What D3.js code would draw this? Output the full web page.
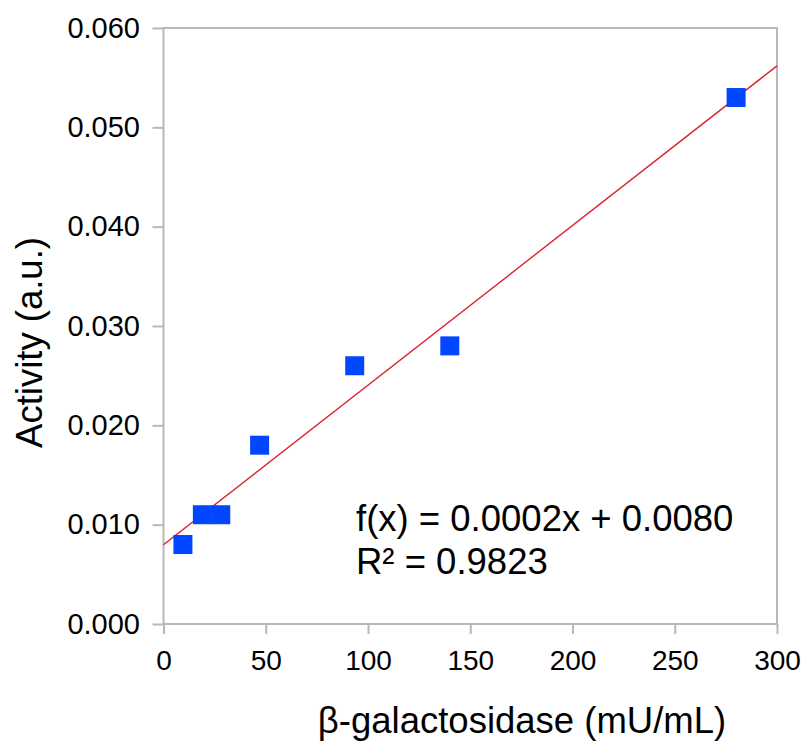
<!DOCTYPE html>
<html>
<head>
<meta charset="utf-8">
<script src="https://cdn.jsdelivr.net/npm/d3@7"></script>
<style>
  html, body { margin: 0; padding: 0; background: #fff; }
  svg { display: block; }
  text { font-family: "Liberation Sans", Arial, sans-serif; fill: #000; }
</style>
</head>
<body>
<svg id="chart" width="806" height="742"></svg>
<script>
// Enzyme concentration (mU/mL) and measured activity (a.u.)
const concentration = [9.5, 19, 28, 47, 93.5, 140, 280];
const activity      = [0.008, 0.011, 0.011, 0.018, 0.026, 0.028, 0.053];

const xTicks = [0, 50, 100, 150, 200, 250, 300];
const yTicks = [0, 0.01, 0.02, 0.03, 0.04, 0.05, 0.06];

const xTitle = "β-galactosidase (mU/mL)";
const yTitle = "Activity (a.u.)";
const fitLabels = ["f(x) = 0.0002x + 0.0080", "R² = 0.9823"];

const svg = d3.select("#chart");
const plot = { left: 163.5, right: 777, top: 28, bottom: 624 };

const x = d3.scaleLinear().domain([0, 300]).range([plot.left, plot.right]);
const y = d3.scaleLinear().domain([0, 0.06]).range([plot.bottom, plot.top]);

const frameColor = "#b8b8b8";

// plot frame
svg.append("rect")
  .attr("x", plot.left).attr("y", plot.top)
  .attr("width", plot.right - plot.left).attr("height", plot.bottom - plot.top)
  .attr("fill", "none").attr("stroke", frameColor).attr("stroke-width", 2);

// axes
const xAxis = svg.append("g")
  .attr("transform", `translate(0,${plot.bottom})`)
  .call(d3.axisBottom(x).tickValues(xTicks).tickSize(10).tickPadding(16)
        .tickFormat(d3.format("d")));
const yAxis = svg.append("g")
  .attr("transform", `translate(${plot.left},0)`)
  .call(d3.axisLeft(y).tickValues(yTicks).tickSize(11).tickPadding(12.5)
        .tickFormat(d3.format(".3f")));

[[xAxis, "28px"], [yAxis, "29px"]].forEach(([g, fs]) => {
  g.select(".domain").remove();
  g.selectAll(".tick line").attr("stroke", frameColor).attr("stroke-width", 2);
  g.selectAll(".tick text")
    .attr("fill", "#000")
    .style("font-family", '"Liberation Sans", Arial, sans-serif')
    .style("font-size", fs);
});

// least-squares trend line through the measurements
const n = concentration.length;
const mx = d3.mean(concentration), my = d3.mean(activity);
let sxy = 0, sxx = 0;
for (let i = 0; i < n; i++) {
  sxy += (concentration[i] - mx) * (activity[i] - my);
  sxx += (concentration[i] - mx) ** 2;
}
const slope = sxy / sxx, intercept = my - slope * mx;

svg.append("line")
  .attr("x1", x(0)).attr("y1", y(intercept))
  .attr("x2", x(300)).attr("y2", y(intercept + slope * 300))
  .attr("stroke", "#d8232f").attr("stroke-width", 1.4);

// data points
const size = 19;
svg.append("g").selectAll("rect")
  .data(d3.zip(concentration, activity))
  .join("rect")
  .attr("x", d => x(d[0]) - size / 2)
  .attr("y", d => y(d[1]) - size / 2)
  .attr("width", size).attr("height", size)
  .attr("fill", "#0047ff");

// regression equation
svg.append("g").selectAll("text")
  .data(fitLabels)
  .join("text")
  .attr("x", 356)
  .attr("y", (d, i) => 531 + i * 43)
  .style("font-size", "36.5px")
  .text(d => d);

// axis titles
svg.append("text")
  .attr("x", 522)
  .attr("y", 733)
  .attr("text-anchor", "middle")
  .style("font-size", "36.5px")
  .text(xTitle);

svg.append("text")
  .attr("transform", `translate(42,342.5) rotate(-90)`)
  .attr("text-anchor", "middle")
  .style("font-size", "36.5px")
  .text(yTitle);
</script>
</body>
</html>
